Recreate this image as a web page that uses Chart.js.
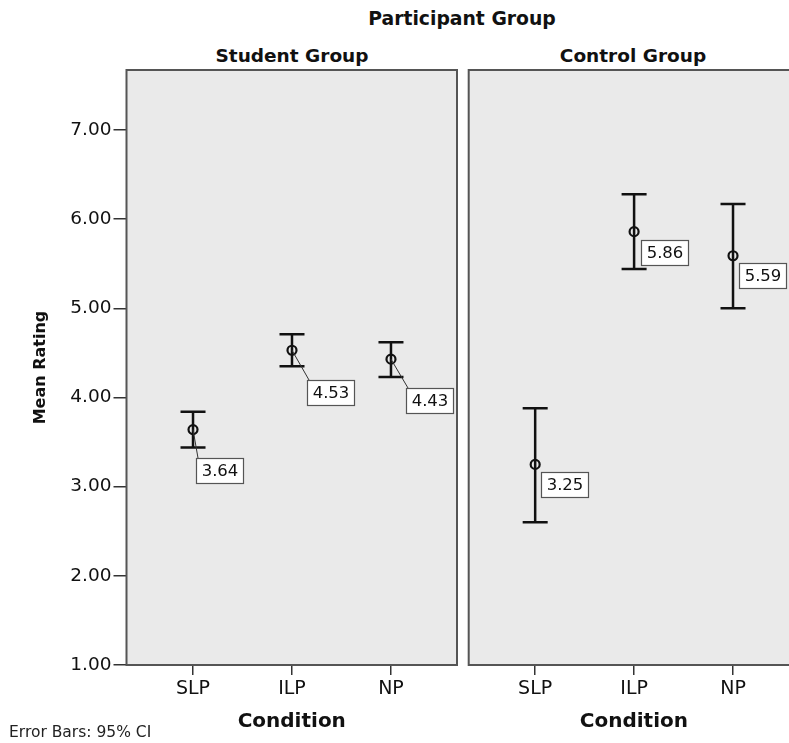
<!DOCTYPE html>
<html>
<head>
<meta charset="utf-8">
<script src="https://cdn.jsdelivr.net/npm/chart.js@4.4.1/dist/chart.umd.min.js"></script>
<style>
  html, body { margin: 0; padding: 0; background: #ffffff; }
  #wrap { position: relative; width: 789px; height: 743px; overflow: hidden; background: #fff; }
  .txt { position: absolute; font-family: "DejaVu Sans", sans-serif; color: #111; white-space: nowrap; line-height: 1; }
  .bold { font-weight: bold; }
  #box1 { position: absolute; left: 0; top: 0; width: 470px; height: 743px; }
  #box2 { position: absolute; left: 462px; top: 0; width: 350px; height: 743px; }
</style>
</head>
<body>
<div id="wrap">
  <div class="txt bold" id="superTitle" style="left:462px; top:19px; transform:translate(-50%,-50%); font-size:18.8px;">Participant Group</div>
  <div class="txt bold" id="panel1Title" style="left:292px; top:56px; transform:translate(-50%,-50%); font-size:18.5px;">Student Group</div>
  <div class="txt bold" id="panel2Title" style="left:633px; top:56px; transform:translate(-50%,-50%); font-size:18.5px;">Control Group</div>
  <div id="box1"><canvas id="c1"></canvas></div>
  <div id="box2"><canvas id="c2"></canvas></div>
  <div class="txt" id="note" style="left:9px; top:733px; transform:translate(0,-50%); font-size:15.5px; color:#222;">Error Bars: 95% CI</div>
</div>
<script>
// ---- data ----
const categories = ['SLP', 'ILP', 'NP'];
const panelTitles = ['Student Group', 'Control Group'];
const studentMeans = [3.64, 4.53, 4.43];
const studentLower = [3.44, 4.35, 4.23];
const studentUpper = [3.84, 4.71, 4.62];
const controlMeans = [3.25, 5.86, 5.59];
const controlLower = [2.60, 5.44, 5.00];
const controlUpper = [3.88, 6.28, 6.17];
const yTickValues = [1, 2, 3, 4, 5, 6, 7];
const yTickLabels = ['1.00', '2.00', '3.00', '4.00', '5.00', '6.00', '7.00'];

// ---- label placement styles (pixel offsets of label box from the point) ----
const studentLabelOffsets = [[3, 28], [15, 30], [15, 29]];
const controlLabelOffsets = [[6, 8], [7, 8], [6, 7]];

const PANEL_BG = '#eaeaea';
const BORDER = '#555555';
const INK = '#111111';
const FONT = '"DejaVu Sans", sans-serif';

const panelPlugin = {
  id: 'panelDecor',
  beforeDraw(chart) {
    const { ctx, chartArea: a } = chart;
    ctx.save();
    ctx.fillStyle = PANEL_BG;
    ctx.fillRect(a.left, a.top, a.right - a.left, a.bottom - a.top);
    ctx.restore();
  },
  afterDraw(chart) {
    const { ctx, chartArea: a } = chart;
    ctx.save();
    ctx.strokeStyle = BORDER;
    ctx.lineWidth = 2;
    ctx.strokeRect(a.left, a.top, a.right - a.left, a.bottom - a.top);
    ctx.restore();
  }
};

const errorBarPlugin = {
  id: 'errorBars',
  beforeDatasetsDraw(chart, args, opts) {
    const { ctx } = chart;
    const xs = chart.scales.x, ys = chart.scales.y;
    ctx.save();
    ctx.strokeStyle = INK;
    ctx.lineWidth = 2.5;
    ctx.lineCap = 'butt';
    opts.lower.forEach((lo, i) => {
      const hi = opts.upper[i];
      const x = xs.getPixelForValue(i);
      const yl = ys.getPixelForValue(lo), yh = ys.getPixelForValue(hi);
      ctx.beginPath();
      ctx.moveTo(x, yl); ctx.lineTo(x, yh);
      ctx.moveTo(x - 12.5, yl); ctx.lineTo(x + 12.5, yl);
      ctx.moveTo(x - 12.5, yh); ctx.lineTo(x + 12.5, yh);
      ctx.stroke();
    });
    ctx.restore();
  },
  afterDraw(chart, args, opts) {
    const { ctx } = chart;
    const xs = chart.scales.x, ys = chart.scales.y;
    ctx.save();
    ctx.font = '16.5px ' + FONT;
    ctx.textBaseline = 'middle';
    ctx.textAlign = 'center';
    opts.means.forEach((m, i) => {
      const px = xs.getPixelForValue(i), py = ys.getPixelForValue(m);
      const [dx, dy] = opts.offsets[i];
      const txt = m.toFixed(2);
      const w = Math.round(ctx.measureText(txt).width + 10), h = 25;
      const bx = Math.round(px + dx), by = Math.round(py + dy);
      if (opts.leader) {
        ctx.strokeStyle = '#333';
        ctx.lineWidth = 1;
        ctx.beginPath();
        ctx.moveTo(px, py);
        ctx.lineTo(bx + 2, by);
        ctx.stroke();
      }
      ctx.fillStyle = '#ffffff';
      ctx.fillRect(bx, by, w, h);
      ctx.strokeStyle = '#555';
      ctx.lineWidth = 1.2;
      ctx.strokeRect(bx + 0.5, by + 0.5, w, h);
      ctx.fillStyle = '#111';
      ctx.fillText(txt, bx + w / 2 + 0.5, by + h / 2 + 1.5);
    });
    ctx.restore();
  }
};

function makeOptions(isLeft, means, lower, upper, offsets, leader) {
  return {
    responsive: false,
    animation: false,
    devicePixelRatio: 1,
    layout: { padding: { top: 70, left: isLeft ? 0 : 6, right: 13, bottom: 0 } },
    plugins: {
      legend: { display: false },
      tooltip: { enabled: false },
      title: { display: false },
      errorBars: { means, lower, upper, offsets, leader }
    },
    scales: {
      x: {
        type: 'linear',
        min: -0.672,
        max: 2.667,
        afterBuildTicks: (s) => { s.ticks = categories.map((c, i) => ({ value: i })); },
        afterFit: (s) => { s.height = 78; },
        ticks: {
          callback: (v) => categories[v],
          color: INK,
          font: { family: FONT, size: 19 },
          padding: 3,
          autoSkip: false,
          maxRotation: 0
        },
        grid: { display: true, drawOnChartArea: false, drawTicks: true, tickLength: 10, color: '#333', lineWidth: 1.5 },
        border: { display: false },
        title: {
          display: true,
          text: 'Condition',
          color: INK,
          font: { family: FONT, size: 20, weight: 'bold' },
          padding: { top: 0, bottom: 9 }
        }
      },
      y: {
        type: 'linear',
        display: isLeft,
        min: 1,
        max: 7.673,
        afterBuildTicks: (s) => { s.ticks = yTickValues.map(v => ({ value: v })); },
        afterFit: (s) => { if (isLeft) s.width = 126.5; },
        ticks: {
          callback: (v) => yTickLabels[yTickValues.indexOf(v)],
          color: INK,
          font: { family: FONT, size: 18.5 },
          padding: 2
        },
        grid: { display: true, drawOnChartArea: false, drawTicks: true, tickLength: 13, color: '#333', lineWidth: 1.5 },
        border: { display: false },
        title: {
          display: true,
          text: 'Mean Rating',
          color: INK,
          font: { family: FONT, size: 16, weight: 'bold' },
          padding: { top: 31, bottom: 0 }
        }
      }
    }
  };
}

function makeChart(id, w, isLeft, means, lower, upper, offsets, leader) {
  const cv = document.getElementById(id);
  cv.width = w; cv.height = 743;
  cv.style.width = w + 'px'; cv.style.height = '743px';
  return new Chart(cv, {
    type: 'scatter',
    data: {
      datasets: [{
        data: means.map((m, i) => ({ x: i, y: m })),
        pointStyle: 'circle',
        pointRadius: 4.5,
        pointBorderWidth: 2.2,
        pointBorderColor: INK,
        pointBackgroundColor: 'rgba(0,0,0,0)',
        showLine: false
      }]
    },
    options: makeOptions(isLeft, means, lower, upper, offsets, leader),
    plugins: [panelPlugin, errorBarPlugin]
  });
}

makeChart('c1', 470, true, studentMeans, studentLower, studentUpper, studentLabelOffsets, true);
makeChart('c2', 350, false, controlMeans, controlLower, controlUpper, controlLabelOffsets, false);
</script>
</body>
</html>
